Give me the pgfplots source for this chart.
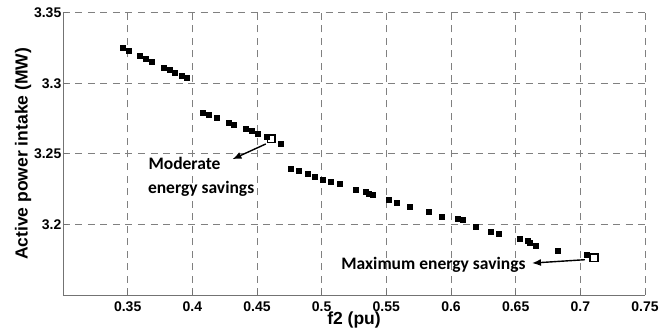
\documentclass[border=0pt]{standalone}
\usepackage{fontspec}
\setmainfont{Liberation Sans}
\newfontfamily\calibri{Carlito}
\usepackage{pgfplots}
\pgfplotsset{compat=1.18}
\usetikzlibrary{arrows.meta}
\begin{document}
\begin{tikzpicture}[x=1pt,y=1pt]
\useasboundingbox (-63,-40) rectangle (604,295);
\begin{axis}[
  at={(0,0)}, anchor=south west,
  scale only axis, width=582pt, height=282.3pt,
  xmin=0.3, xmax=0.75, ymin=3.15, ymax=3.35,
  xtick={0.35,0.4,0.45,0.5,0.55,0.6,0.65,0.7,0.75},
  ytick={3.2,3.25,3.3,3.35},
  xticklabels={\textbf{0.35},\textbf{0.4},\textbf{0.45},\textbf{0.5},\textbf{0.55},\textbf{0.6},\textbf{0.65},\textbf{0.7},\textbf{0.75}},
  yticklabels={\textbf{3.2},\textbf{3.25},\textbf{3.3},\textbf{3.35}},
  axis x line=bottom, axis y line=left,
  axis line style={-, black!55, line width=0.9pt},
  tick style={black!55, line width=0.8pt},
  tick align=inside, major tick length=5pt,
  grid=major,
  major grid style={black!50, line width=0.8pt, dash pattern=on 7pt off 5.5pt},
  /pgf/number format/assume math mode=true,
  ticklabel style={font=\bfseries\fontsize{14}{16}\selectfont},
  xticklabel style={anchor=north, inner sep=0pt, yshift=-7pt},
  yticklabel style={anchor=east, inner sep=0pt, xshift=-1.5pt},
  xlabel={f2 (pu)},
  ylabel={Active power intake (MW)},
  label style={font=\bfseries\fontsize{17.5}{20}\selectfont},
  xlabel style={at={(axis description cs:0.5,0)}, anchor=center, yshift=-25pt},
  ylabel style={at={(axis description cs:0,0.5)}, anchor=center, rotate=0, yshift=40pt},
  clip=false,
]
\addplot[only marks, mark=square*, mark size=2.5pt, black] coordinates {
(0.3460,3.3252) (0.3507,3.3234) (0.3590,3.3195) (0.3642,3.3172) (0.3683,3.3156)
(0.3779,3.3113) (0.3823,3.3094) (0.3864,3.3077) (0.3916,3.3056) (0.3960,3.3039)
(0.4077,3.2792) (0.4128,3.2776) (0.4186,3.2756) (0.4281,3.2721) (0.4318,3.2707)
(0.4413,3.2681) (0.4457,3.2662) (0.4504,3.2646) (0.4576,3.2622) (0.4685,3.2575)
(0.4762,3.2395) (0.4819,3.2379) (0.4892,3.2360) (0.4949,3.2341) (0.5011,3.2320)
(0.5073,3.2303) (0.5143,3.2287) (0.5265,3.2244) (0.5337,3.2230) (0.5363,3.2218)
(0.5391,3.2209) (0.5521,3.2176) (0.5578,3.2157) (0.5681,3.2124) (0.5824,3.2089)
(0.5927,3.2053) (0.6049,3.2044) (0.6092,3.2032) (0.6193,3.1984) (0.6310,3.1952)
(0.6367,3.1933) (0.6535,3.1902) (0.6595,3.1885) (0.6605,3.1867) (0.6657,3.1850)
(0.6825,3.1817) (0.7047,3.1784)
};
\addplot[only marks, mark=square, mark size=3.8pt, black, mark options={fill=white, line width=1.6pt}] coordinates {
(0.4610,3.2608) (0.7105,3.1765)
};
\draw[black, line width=1.4pt, -{Latex[length=9pt,width=7pt]}] (axis cs:0.4568,3.2570) -- (axis cs:0.4310,3.2462);
\draw[black, line width=1.4pt, -{Latex[length=9pt,width=7pt]}] (axis cs:0.7035,3.1750) -- (axis cs:0.6626,3.1726);
\node[anchor=base west, inner sep=0pt, font=\calibri\bfseries\fontsize{17.5}{21}\selectfont] at (axis cs:0.3660,3.2391) {Moderate};
\node[anchor=base west, inner sep=0pt, font=\calibri\bfseries\fontsize{17.5}{21}\selectfont] at (axis cs:0.3656,3.2221) {energy savings};
\node[anchor=base west, inner sep=0pt, font=\calibri\bfseries\fontsize{17.5}{21}\selectfont] at (axis cs:0.5151,3.1678) {Maximum energy savings};
\end{axis}
\end{tikzpicture}
\end{document}
